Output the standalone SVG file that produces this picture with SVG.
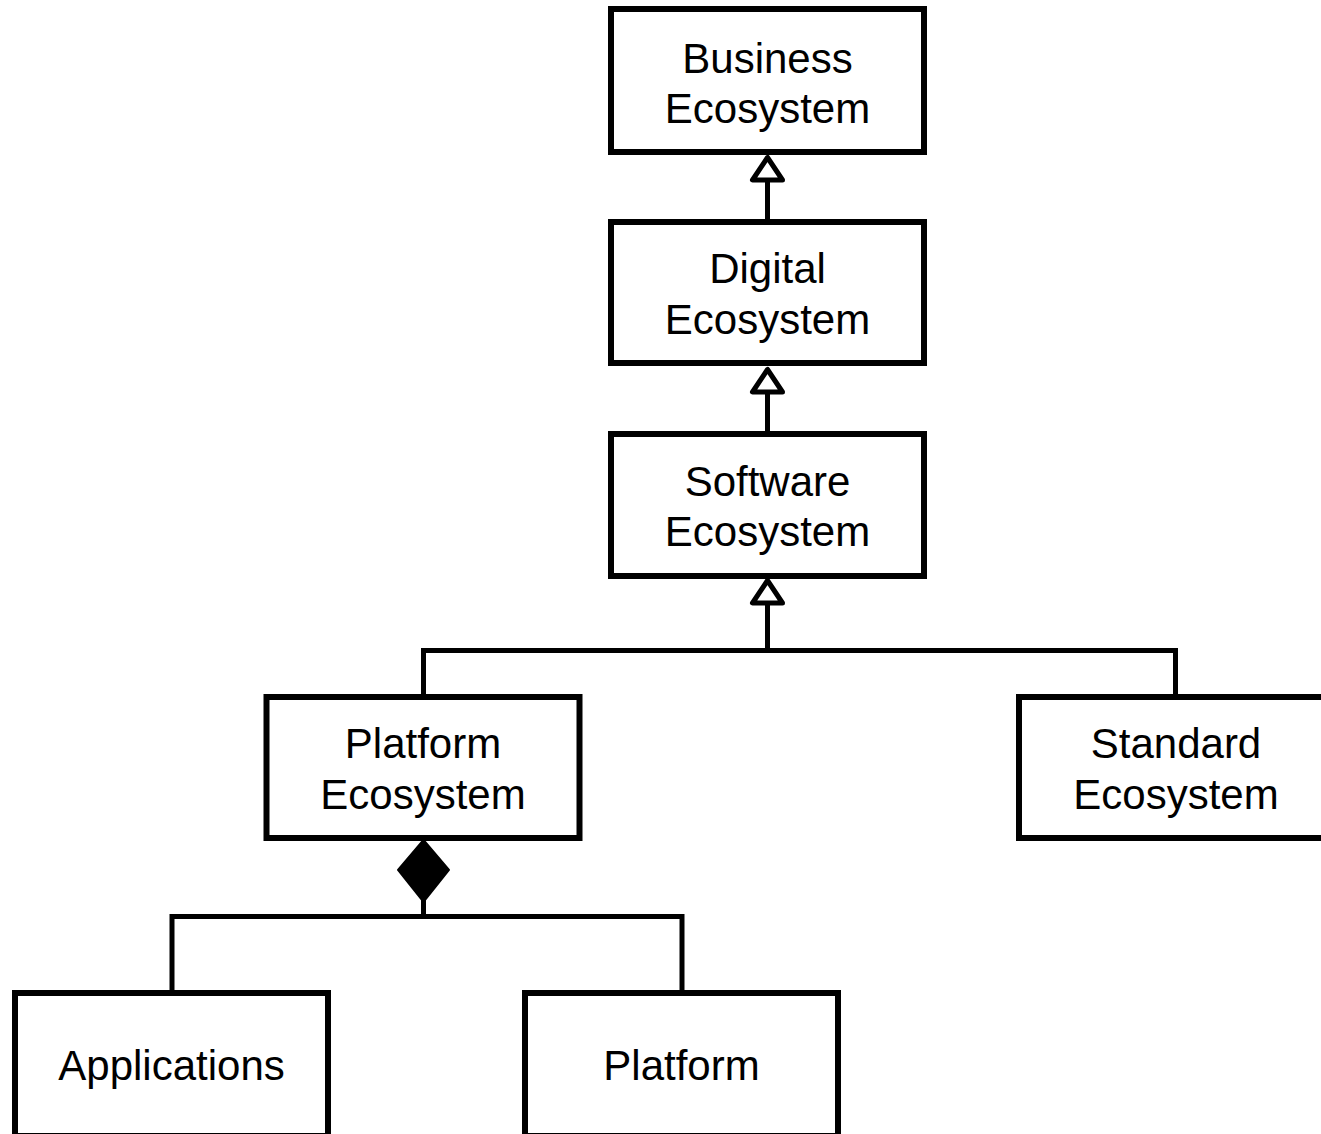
<svg xmlns="http://www.w3.org/2000/svg" width="1321" height="1134" viewBox="0 0 1321 1134">
<style>
.box{fill:#fff;stroke:#000;stroke-width:6}
.lbl{font-family:"Liberation Sans",Arial,sans-serif;font-size:42px;fill:#000;text-anchor:middle}
.ln{fill:none;stroke:#000;stroke-width:5}
.tri{fill:#fff;stroke:#000;stroke-width:5;stroke-linejoin:round}
.dia{fill:#000;stroke:#000;stroke-width:2;stroke-linejoin:round}
</style>
<rect width="1321" height="1134" fill="#fff"/>
<g id="connectors">
<path class="ln" d="M767.5 222V180"/>
<path class="tri" d="M767.5 157.5L752.5 180H782.5Z"/>
<path class="ln" d="M767.5 434V392"/>
<path class="tri" d="M767.5 369.5L752.5 392H782.5Z"/>
<path class="ln" d="M767.5 650V603"/>
<path class="tri" d="M767.5 580.5L752.5 603H782.5Z"/>
<path class="ln" d="M423.5 697V650.5H1175.5V697"/>
<path class="ln" d="M423.5 900V916.5"/>
<path class="ln" d="M172 993V916.5H682V993"/>
<path class="dia" d="M423.5 840L449 870L423.5 902L398 870Z"/>
</g>
<g id="business">
<rect class="box" x="611" y="9" width="313" height="143"/>
<text class="lbl" x="767.5" y="73">Business</text>
<text class="lbl" x="767.5" y="123">Ecosystem</text>
</g>
<g id="digital">
<rect class="box" x="611" y="222" width="313" height="141"/>
<text class="lbl" x="767.5" y="283">Digital</text>
<text class="lbl" x="767.5" y="334">Ecosystem</text>
</g>
<g id="software">
<rect class="box" x="611" y="434" width="313" height="142"/>
<text class="lbl" x="767.5" y="496">Software</text>
<text class="lbl" x="767.5" y="546">Ecosystem</text>
</g>
<g id="platform-ecosystem">
<rect class="box" x="266.5" y="697" width="313" height="141"/>
<text class="lbl" x="423" y="758">Platform</text>
<text class="lbl" x="423" y="809">Ecosystem</text>
</g>
<g id="standard-ecosystem">
<rect class="box" x="1019" y="697" width="313" height="141"/>
<text class="lbl" x="1176" y="758">Standard</text>
<text class="lbl" x="1176" y="809">Ecosystem</text>
</g>
<g id="applications">
<rect class="box" x="15" y="993" width="313" height="143"/>
<text class="lbl" x="171.5" y="1080">Applications</text>
</g>
<g id="platform">
<rect class="box" x="525" y="993" width="313" height="143"/>
<text class="lbl" x="681.5" y="1080">Platform</text>
</g>
</svg>
